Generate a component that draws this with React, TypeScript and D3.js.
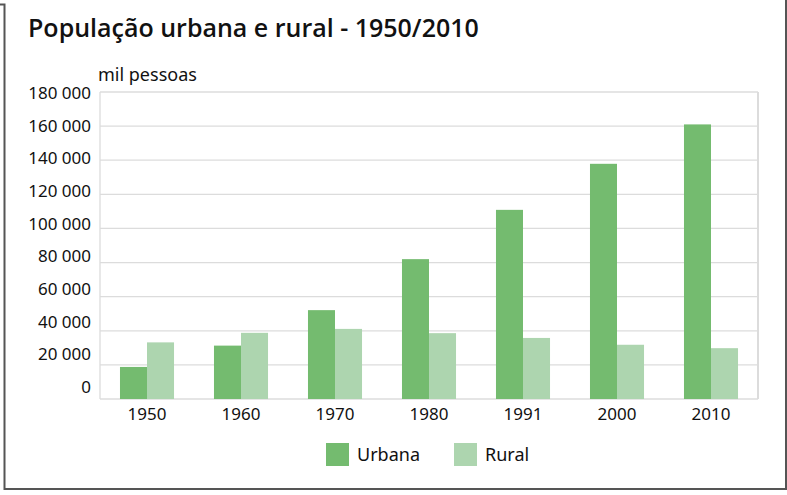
import React from 'react';
import * as d3 from 'd3';

const years = ['1950', '1960', '1970', '1980', '1991', '2000', '2010'];
const urbana = [18800, 31300, 52100, 82000, 110900, 137900, 161000];
const rural = [33200, 38800, 41100, 38600, 35800, 31800, 29800];
const yTicks = [0, 20000, 40000, 60000, 80000, 100000, 120000, 140000, 160000, 180000];
const seriesNames = ['Urbana', 'Rural'];
const colors = ['#74bb6f', '#add5af'];

const W = 787;
const H = 495;
const left = 100;
const right = 758;
const top = 92;
const bottom = 399;
const labelFont = '"Noto Sans", "Open Sans", sans-serif';

const fmt = (v: number) => d3.format(',')(v).replace(/,/g, ' ');

export default function App() {
  const x = d3.scaleBand<string>()
    .domain(years)
    .range([left, right])
    .paddingInner(0.425)
    .paddingOuter(0.2125);
  const xSub = d3.scaleBand<string>()
    .domain(seriesNames)
    .range([0, x.bandwidth()]);
  const y = d3.scaleLinear().domain([0, 180000]).range([bottom, top]);
  // tick labels in the original sit on a slightly tighter spacing than the grid
  const yLabel = d3.scaleLinear().domain([0, 180000]).range([387, 93]);
  const values = [urbana, rural];

  return (
    <svg width={W} height={H} style={{ position: 'absolute', left: 0, top: 0 }}>
      <rect x={0} y={0} width={W} height={H} fill="#fff" />
      <path d={`M0,4.5 H4.5 V489 H786 V0`} fill="none" stroke="#555" strokeWidth={2} />
      <text x={28} y={37} fontFamily='"Open Sans", sans-serif' fontWeight={600} fontSize={25} fill="#111">
        População urbana e rural - 1950/2010
      </text>
      <text x={98} y={81} fontFamily={labelFont} fontSize={18} fill="#111">mil pessoas</text>

      {yTicks.map((t) => (
        <g key={t}>
          <line x1={left} x2={right} y1={y(t)} y2={y(t)} stroke="#dcdcdc" strokeWidth={1.3} />
          <text x={91} y={yLabel(t) + 6} textAnchor="end" fontFamily={labelFont} fontSize={17} fill="#111">
            {fmt(t)}
          </text>
        </g>
      ))}
      <line x1={left} x2={left} y1={top} y2={bottom} stroke="#dcdcdc" strokeWidth={1.3} />
      <line x1={right} x2={right} y1={top} y2={bottom} stroke="#dcdcdc" strokeWidth={2} />

      {years.map((yr, i) => (
        <g key={yr} transform={`translate(${x(yr)},0)`}>
          {seriesNames.map((s, j) => (
            <rect
              key={s}
              x={xSub(s)}
              y={y(values[j][i])}
              width={xSub.bandwidth()}
              height={bottom - y(values[j][i])}
              fill={colors[j]}
            />
          ))}
          <text x={x.bandwidth() / 2} y={420} textAnchor="middle" fontFamily={labelFont} fontSize={17} fill="#111">
            {yr}
          </text>
        </g>
      ))}

      {seriesNames.map((s, j) => (
        <g key={s} transform={`translate(${326 + j * 128},443)`}>
          <rect width={23} height={23} fill={colors[j]} />
          <text x={31} y={18} fontFamily={labelFont} fontSize={18} fill="#111">{s}</text>
        </g>
      ))}
    </svg>
  );
}
